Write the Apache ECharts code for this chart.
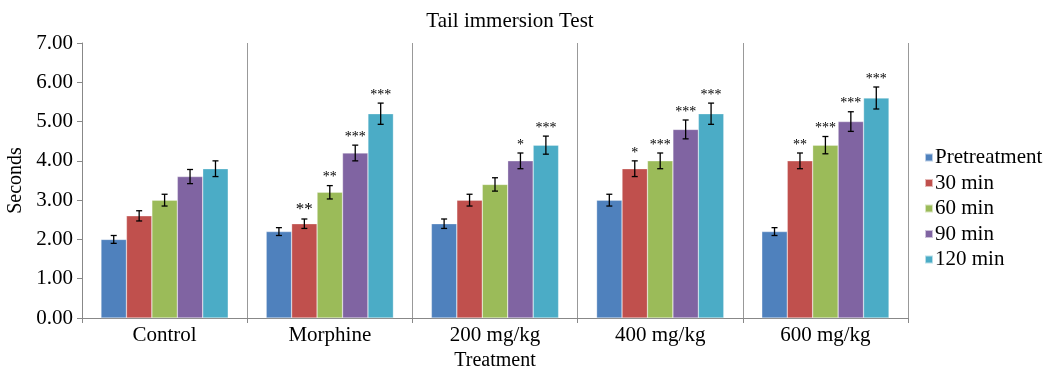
<!DOCTYPE html>
<html>
<head>
<meta charset="utf-8">
<script src="https://cdn.jsdelivr.net/npm/echarts@6/dist/echarts.min.js"></script>
<style>
  html, body { margin: 0; padding: 0; background: #fff; }
  #chart { width: 1045px; height: 368px; }
</style>
</head>
<body>
<div id="chart"></div>
<script>
const categories = ["Control", "Morphine", "200 mg/kg", "400 mg/kg", "600 mg/kg"];
const seriesNames = ["Pretreatment", "30 min", "60 min", "90 min", "120 min"];

// one array per time point, one value per treatment
const pretreatment = [2.0, 2.2, 2.4, 3.0, 2.2];
const min30 = [2.6, 2.4, 3.0, 3.8, 4.0];
const min60 = [3.0, 3.2, 3.4, 4.0, 4.4];
const min90 = [3.6, 4.2, 4.0, 4.8, 5.0];
const min120 = [3.8, 5.2, 4.4, 5.2, 5.6];

const errPre = [0.1, 0.1, 0.12, 0.15, 0.1];
const err30 = [0.13, 0.12, 0.15, 0.2, 0.2];
const err60 = [0.15, 0.17, 0.17, 0.2, 0.22];
const err90 = [0.18, 0.2, 0.2, 0.24, 0.25];
const err120 = [0.2, 0.27, 0.23, 0.27, 0.28];

const starsPre = ["", "", "", "", ""];
const stars30 = ["", "**", "", "*", "**"];
const stars60 = ["", "**", "", "***", "***"];
const stars90 = ["", "***", "*", "***", "***"];
const stars120 = ["", "***", "***", "***", "***"];

const yTicks = [0, 1, 2, 3, 4, 5, 6, 7];

const values = [pretreatment, min30, min60, min90, min120];
const errors = [errPre, err30, err60, err90, err120];
const stars = [starsPre, stars30, stars60, stars90, stars120];
const colors = ["#4F81BD", "#C0504D", "#9BBB59", "#8064A2", "#4BACC6"];

const font = "Liberation Serif";
const gapRatio = 0.23;

const chart = echarts.init(document.getElementById("chart"));

const barSeries = values.map((vals, i) => ({
  name: seriesNames[i],
  type: "bar",
  data: vals,
  barGap: "0%",
  barCategoryGap: "23%",
  itemStyle: { color: colors[i], borderColor: "rgba(255,255,255,0.6)", borderWidth: 0.5 },
}));

const errSeries = values.map((vals, i) => ({
  type: "custom",
  name: "err" + i,
  data: vals.map((v, j) => [j, v, errors[i][j]]),
  z: 10,
  silent: true,
  renderItem: (params, api) => {
    const j = api.value(0);
    const v = api.value(1);
    const e = api.value(2);
    const s = stars[i][j];
    const band = api.size([1, 0])[0];
    const barW = (band * (1 - gapRatio)) / 5;
    const center = api.coord([j, 0])[0];
    const x = center - (barW * 5) / 2 + barW * (i + 0.5);
    const top = api.coord([j, v + e])[1];
    const bot = api.coord([j, v - e])[1];
    const cap = 3;
    const style = { stroke: "#000", lineWidth: 1.3 };
    const children = [
      { type: "line", shape: { x1: x, y1: top, x2: x, y2: bot }, style },
      { type: "line", shape: { x1: x - cap, y1: top, x2: x + cap, y2: top }, style },
      { type: "line", shape: { x1: x - cap, y1: bot, x2: x + cap, y2: bot }, style },
    ];
    if (s) {
      const big = (i === 1 && j === 1);
      children.push({
        type: "text",
        style: {
          text: s,
          x: x,
          y: top - 1,
          align: "center",
          verticalAlign: "bottom",
          fill: "#000",
          font: (big ? 17 : 14) + "px '" + font + "'",
        },
      });
    }
    return { type: "group", children };
  },
}));

const option = {
  backgroundColor: "#fff",
  animation: false,
  textStyle: { fontFamily: font },
  title: {
    text: "Tail immersion Test",
    left: 505,
    top: 6,
    textAlign: "center",
    textStyle: { fontFamily: font, fontSize: 21, fontWeight: "normal", color: "#000" },
  },
  legend: {
    data: seriesNames,
    orient: "vertical",
    left: 919,
    top: 142,
    itemWidth: 8,
    itemHeight: 8,
    itemGap: 4.5,
    icon: "rect",
    textStyle: { fontFamily: font, fontSize: 21, color: "#000", padding: [0, 0, 0, -3] },
  },
  grid: { left: 82, right: 137, top: 43, bottom: 50, outerBoundsMode: "none" },
  xAxis: {
    type: "category",
    data: categories,
    name: "Treatment",
    nameLocation: "middle",
    nameGap: 28,
    nameTextStyle: { fontFamily: font, fontSize: 20, color: "#000" },
    axisLine: { lineStyle: { color: "#888", width: 1 } },
    axisTick: { show: true, length: 5, lineStyle: { color: "#888" } },
    axisLabel: { fontFamily: font, fontSize: 21, color: "#000", margin: 7 },
    splitLine: { show: true, lineStyle: { color: "#999", width: 1 } },
  },
  yAxis: {
    type: "value",
    min: 0,
    max: 7,
    interval: 1,
    name: "Seconds",
    nameLocation: "middle",
    nameGap: 52,
    nameTextStyle: { fontFamily: font, fontSize: 20, color: "#000" },
    axisLine: { show: true, lineStyle: { color: "#888", width: 1 } },
    axisTick: { show: true, length: 5, lineStyle: { color: "#888" } },
    axisLabel: {
      fontFamily: font,
      fontSize: 21,
      color: "#000",
      margin: 9,
      formatter: (v) => (yTicks.includes(v) ? v.toFixed(2) : ""),
    },
    splitLine: { show: false },
  },
  series: [...barSeries, ...errSeries],
};

chart.setOption(option);
</script>
</body>
</html>
